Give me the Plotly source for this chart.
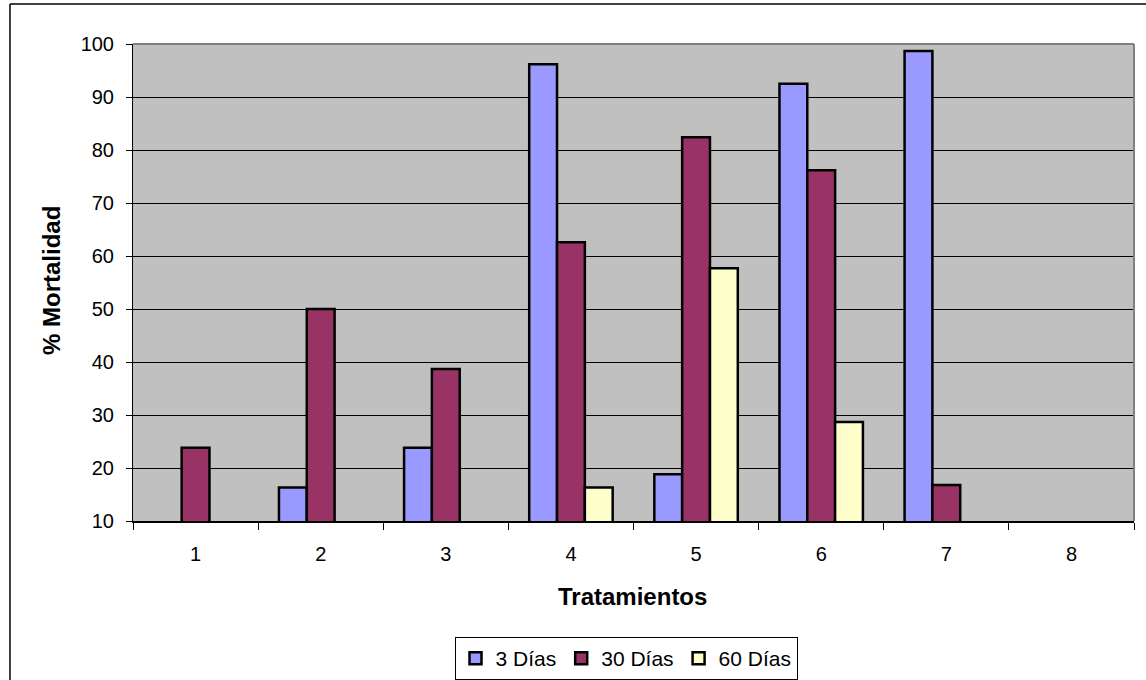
import plotly.graph_objects as go

categories = [1, 2, 3, 4, 5, 6, 7, 8]
series_names = ["3 Días", "30 Días", "60 Días"]
dias3 = [None, 16.3, 23.8, 96.2, 18.8, 92.5, 98.7, None]
dias30 = [23.8, 50.0, 38.7, 62.6, 82.4, 76.2, 16.8, None]
dias60 = [None, None, None, 16.3, 57.7, 28.7, None, None]
y_ticks = [10, 20, 30, 40, 50, 60, 70, 80, 90, 100]

colors = ["#9999FF", "#993366", "#FFFFCC"]
font_family = "Liberation Sans, Arial, sans-serif"

fig = go.Figure()
for name, vals, col in zip(series_names, [dias3, dias30, dias60], colors):
    fig.add_trace(go.Bar(
        x=categories, y=vals, name=name,
        marker=dict(color=col, line=dict(color="black", width=2.5)),
    ))

fig.update_layout(
    width=1146, height=680,
    margin=dict(l=133, r=12, t=44, b=159),
    paper_bgcolor="white",
    plot_bgcolor="#C0C0C0",
    barmode="group",
    bargap=0.333,
    bargroupgap=0,
    font=dict(family=font_family, color="black", size=20),
    showlegend=True,
    legend=dict(
        orientation="h", xref="container", yref="container",
        x=626 / 1146, xanchor="center", y=1 - 658.5 / 680, yanchor="middle",
        bordercolor="black", borderwidth=1, bgcolor="white",
        font=dict(size=21, family=font_family), traceorder="normal",
        itemwidth=30, tracegroupgap=0,
    ),
    xaxis=dict(
        range=[0.5, 8.5], tickvals=categories, ticktext=[str(c) for c in categories],
        ticks="", showgrid=False, zeroline=False, automargin=False,
        showline=True, linecolor="black", linewidth=2,
        minor=dict(tickvals=[c - 0.5 for c in categories] + [8.5], ticks="outside",
                   ticklen=7, tickcolor="black", showgrid=False),
        tickfont=dict(size=20), ticklabelstandoff=14,
    ),
    yaxis=dict(
        range=[10, 100], tickvals=y_ticks, ticks="outside", ticklen=6, tickcolor="black",
        showgrid=True, gridcolor="black", gridwidth=1, zeroline=False, automargin=False,
        showline=True, linecolor="black", linewidth=1,
        tickfont=dict(size=20), ticklabelstandoff=8,
    ),
    annotations=[
        dict(text="<b>Tratamientos</b>", xref="paper", yref="paper",
             x=(632.5 - 133) / 1001, y=(521 - 596) / 477, xanchor="center", yanchor="middle",
             showarrow=False, font=dict(size=24)),
        dict(text="<b>% Mortalidad</b>", xref="paper", yref="paper",
             x=(51 - 133) / 1001, y=(521 - 281) / 477, xanchor="center", yanchor="middle",
             textangle=-90, showarrow=False, font=dict(size=24)),
    ],
    shapes=[
        dict(type="line", xref="paper", yref="paper", x0=0, x1=1, y0=1, y1=1,
             line=dict(color="#808080", width=2)),
        dict(type="line", xref="paper", yref="paper", x0=1, x1=1, y0=0, y1=1,
             line=dict(color="#808080", width=2)),
        dict(type="line", xref="paper", yref="paper", x0=-0.1229, x1=-0.1229, y0=-1, y1=1.0839,
             line=dict(color="black", width=1.5)),
        dict(type="line", xref="paper", yref="paper", x0=-0.1229, x1=2, y0=1.0839, y1=1.0839,
             line=dict(color="black", width=1.5)),
    ],
)

fig.write_html("out.html", config={"displayModeBar": False},
               post_script="document.body.style.margin='0';document.body.style.overflow='hidden';")
